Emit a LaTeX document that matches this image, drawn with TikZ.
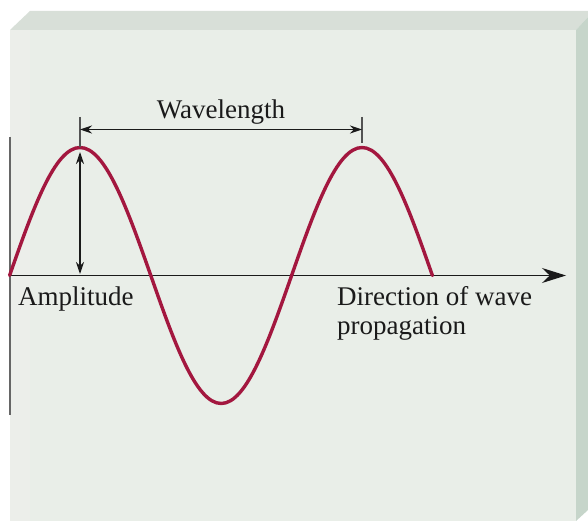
\documentclass[tikz,border=0pt]{standalone}
\usepackage{fontspec}
\setmainfont{Liberation Serif}
\usetikzlibrary{arrows.meta}
\definecolor{frontc}{HTML}{E9EEE8}
\definecolor{leftc}{HTML}{ECEEEA}
\definecolor{topc}{HTML}{D8DFD8}
\definecolor{sidec}{HTML}{C6D5CA}
\definecolor{wavec}{HTML}{A3173F}
\definecolor{inkc}{HTML}{1A1A1A}
\tikzset{
  lbl/.style={font=\fontsize{27}{30}\selectfont, text=inkc, inner sep=0pt},
  dimline/.style={draw=inkc, line width=1.2pt},
  ticks/.style={draw=inkc!75, line width=1.4pt},
  dimtips/.style={{Stealth[length=12pt,width=8pt]}-{Stealth[length=12pt,width=8pt]}},
}
\begin{document}
\begin{tikzpicture}[x=1pt,y=-1pt]
\useasboundingbox (0,0) rectangle (588,521);
\fill[white] (0,0) rectangle (588,521);
% box
\fill[topc] (10,30) -- (30,11) -- (588,11) -- (588,17) -- (576,30) -- cycle;
\fill[sidec] (576,30) -- (588,17) -- (588,510) -- (576,521) -- cycle;
\fill[frontc] (10,30) rectangle (576,521);
\fill[leftc] (10,30) rectangle (30,521);
% left wall line
\draw[draw=gray!80!black, line width=1.8pt] (10,137) -- (10,415);
% coordinates
\coordinate (o) at (9.6,275.5);
\coordinate (axisend) at (566,275.5);
\coordinate (p1) at (80,147.5);
\coordinate (p2) at (362,147.5);
\coordinate (t1) at (80,117);
\coordinate (t2) at (362,117);
\coordinate (t2b) at (362,143);
\coordinate (w1) at (80,129.5);
\coordinate (w2) at (362,129.5);
\coordinate (a1) at (80,152);
\coordinate (a2) at (80,274);
% axis
\draw[dimline, -{Stealth[length=24pt,width=15pt]}] (o) -- (axisend);
% wave
\draw[wavec, line width=3.4pt, line cap=round] (o) sin (p1) cos (150.8,275.5) sin (221.2,403.5) cos (291.6,275.5) sin (p2) cos (432.4,275.5);
% ticks
\draw[ticks] (t1) -- (p1);
\draw[ticks] (t2) -- (t2b);
% wavelength arrow
\draw[dimline, dimtips] (w1) -- (w2);
% amplitude arrow
\draw[dimline, dimtips] (a1) -- (a2);
% labels
\node[lbl, anchor=base] (wl) at (221,119) {Wavelength};
\node[lbl, anchor=base west] (amp) at (18,305) {Amplitude};
\node[lbl, anchor=base west] (dir) at (337,305) {Direction of wave};
\node[lbl, anchor=base west] (prop) at (337,334) {propagation};
\end{tikzpicture}
\end{document}
